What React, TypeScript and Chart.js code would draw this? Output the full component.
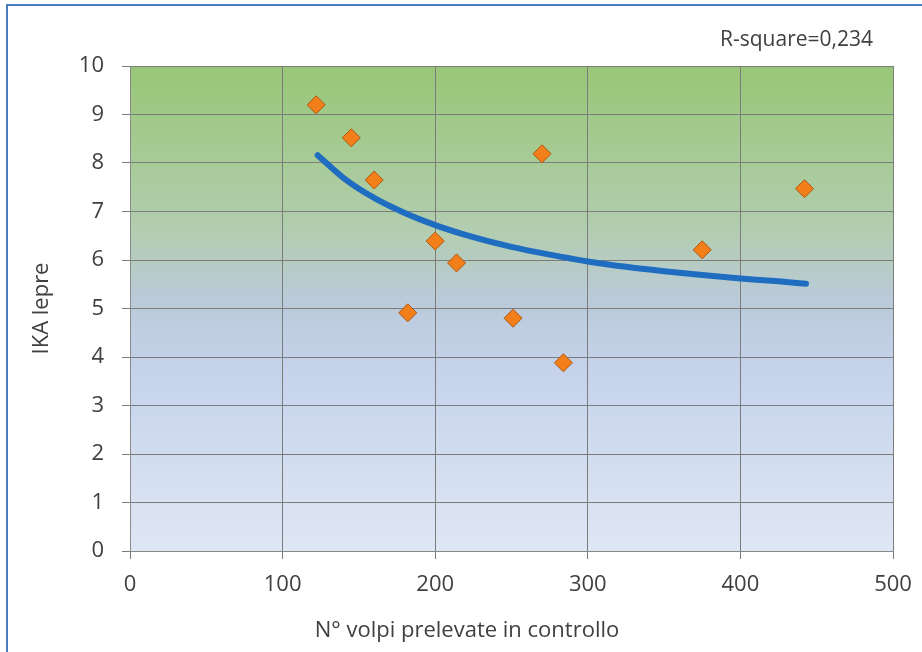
import React, { useEffect, useRef } from 'react';
import { Chart, registerables } from 'chart.js';

Chart.register(...registerables);

// N° volpi prelevate in controllo (x) vs IKA lepre (y)
const foxRemoved = [122, 145, 160, 182, 200, 214, 251, 270, 284, 375, 442];
const hareIKA = [9.2, 8.52, 7.65, 4.91, 6.39, 5.94, 4.8, 8.19, 3.88, 6.21, 7.47];

// Trend curve
const trendX = [123, 140, 160, 180, 200, 225, 250, 275, 300, 325, 350, 375, 400, 425, 443];
const trendY = [8.16, 7.69, 7.28, 6.97, 6.72, 6.47, 6.27, 6.11, 5.97, 5.86, 5.77, 5.69, 5.62, 5.56, 5.51];

const xTitle = 'N° volpi prelevate in controllo';
const yTitle = 'IKA lepre';
const rSquareLabel = 'R-square=0,234';

const FONT = "'Open Sans', 'Noto Sans', sans-serif";
const TEXT = '#404040';

const decorPlugin = {
  id: 'decor',
  beforeDraw(chart: any) {
    const { ctx, chartArea: a, width, height } = chart;
    ctx.save();
    ctx.fillStyle = '#ffffff';
    ctx.fillRect(0, 0, width, height);
    const g = ctx.createLinearGradient(0, a.top, 0, a.bottom);
    g.addColorStop(0, '#98C676');
    g.addColorStop(0.2, '#A8CB98');
    g.addColorStop(0.35, '#B3CDB2');
    g.addColorStop(0.48, '#BACAD9');
    g.addColorStop(0.62, '#C5D2EA');
    g.addColorStop(1, '#DEE7F4');
    ctx.fillStyle = g;
    ctx.fillRect(a.left, a.top, a.right - a.left, a.bottom - a.top);
    // frame
    ctx.strokeStyle = '#4A7EBB';
    ctx.lineWidth = 2;
    ctx.beginPath();
    ctx.moveTo(7, height);
    ctx.lineTo(7, 5);
    ctx.lineTo(width, 5);
    ctx.stroke();
    ctx.restore();
  },
  afterDraw(chart: any) {
    const { ctx } = chart;
    ctx.save();
    ctx.fillStyle = TEXT;
    ctx.textBaseline = 'middle';
    ctx.font = `21px ${FONT}`;
    ctx.textAlign = 'right';
    ctx.fillText(rSquareLabel, 873, 40);
    ctx.font = `22px ${FONT}`;
    ctx.textAlign = 'center';
    ctx.fillText(xTitle, 467, 631);
    ctx.restore();
  },
};

export default function App() {
  const ref = useRef<HTMLCanvasElement>(null);

  useEffect(() => {
    document.body.style.margin = '0';
    const canvas = ref.current!;
    const chart = new Chart(canvas, {
      type: 'scatter',
      data: {
        datasets: [
          {
            label: 'IKA lepre',
            data: foxRemoved.map((x, i) => ({ x, y: hareIKA[i] })),
            pointStyle: 'rectRot',
            pointRadius: 9,
            backgroundColor: '#F37F1A',
            borderColor: '#B0570E',
            borderWidth: 1,
            showLine: false,
          },
          {
            label: 'Trend',
            type: 'line',
            data: trendX.map((x, i) => ({ x, y: trendY[i] })),
            borderColor: '#1E6DC0',
            borderWidth: 6,
            borderCapStyle: 'round',
            pointRadius: 0,
            fill: false,
            cubicInterpolationMode: 'monotone',
          } as any,
        ],
      },
      options: {
        responsive: false,
        animation: false,
        layout: { padding: { left: 0, top: 66, right: 29, bottom: 0 } },
        plugins: {
          legend: { display: false },
          tooltip: { enabled: false },
        },
        scales: {
          x: {
            type: 'linear',
            min: 0,
            max: 500,
            afterFit: (s: any) => { s.height = 101; s.paddingRight = 0; s.paddingLeft = 0; },
            ticks: { stepSize: 100, padding: 13, color: TEXT, font: { family: FONT, size: 22 } },
            grid: { color: '#7C7C7C', lineWidth: 1, tickLength: 8 },
            border: { color: '#8A8A8A' },
          },
          y: {
            type: 'linear',
            min: 0,
            max: 10,
            afterFit: (s: any) => { s.width = 130; s.paddingTop = 0; s.paddingBottom = 0; },
            ticks: { stepSize: 1, padding: 18, color: TEXT, font: { family: FONT, size: 22 } },
            grid: { color: '#7C7C7C', lineWidth: 1, tickLength: 8 },
            border: { color: '#8A8A8A' },
            title: {
              display: true,
              text: yTitle,
              color: TEXT,
              font: { family: FONT, size: 22 },
              padding: { top: 29, bottom: 0 },
            },
          },
        },
      },
      plugins: [decorPlugin],
    });
    return () => chart.destroy();
  }, []);

  return <canvas ref={ref} width={922} height={652} style={{ display: 'block' }} />;
}
